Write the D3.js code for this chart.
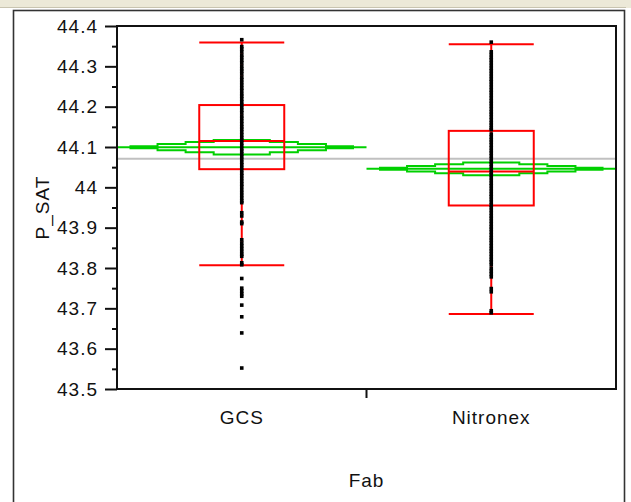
<!DOCTYPE html>
<html>
<head>
<meta charset="utf-8">
<script src="https://cdn.jsdelivr.net/npm/d3@7"></script>
<style>
  body { margin: 0; background: #fff; }
  svg { display: block; }
  text { font-family: "Liberation Sans", Arial, sans-serif; }
</style>
</head>
<body>
<svg id="chart" width="631" height="502"></svg>
<script>
// categories
const fabs = ["GCS", "Nitronex"];
// box plot summaries, one per fab
const q1 = [44.045, 43.955];
const medians = [44.115, 44.039];
const q3 = [44.204, 44.140];
const whiskerLow = [43.807, 43.686];
const whiskerHigh = [44.359, 44.355];
// means diamonds
const means = [44.0995, 44.046];
const ciHalf = [0.0205, 0.018];
const grandMean = 44.071;
// y tick values
const yTicks = [43.5, 43.6, 43.7, 43.8, 43.9, 44.0, 44.1, 44.2, 44.3, 44.4];
const yMinorTicks = [43.55, 43.65, 43.75, 43.85, 43.95, 44.05, 44.15, 44.25, 44.35];
// raw P_SAT values
const gcsPoints = [44.366,
  44.349, 44.343, 44.336, 44.328, 44.322, 44.315, 44.309, 44.301, 44.294, 44.288,
  44.281, 44.273, 44.267, 44.260, 44.253, 44.246, 44.240, 44.232, 44.226, 44.219,
  44.212, 44.205, 44.198, 44.191, 44.185, 44.177, 44.171, 44.164, 44.157, 44.150,
  44.144, 44.137, 44.130, 44.123, 44.117, 44.110, 44.103, 44.096, 44.090, 44.083,
  44.076, 44.069, 44.062, 44.056, 44.049, 44.042, 44.035, 44.029, 44.022, 44.015,
  44.008, 44.002,
  43.994, 43.987, 43.980, 43.973, 43.966, 43.962, 43.937, 43.929, 43.914, 43.910,
  43.870, 43.862, 43.855, 43.848, 43.841, 43.834, 43.829, 43.813, 43.808,
  43.774, 43.750, 43.743, 43.736, 43.730, 43.708, 43.679, 43.639, 43.552];
const nitronexPoints = [44.360,
  44.336, 44.329, 44.322, 44.316, 44.309, 44.302, 44.295, 44.289, 44.282, 44.275,
  44.268, 44.262, 44.255, 44.248, 44.241, 44.235, 44.228, 44.221, 44.214, 44.208,
  44.201, 44.194, 44.187, 44.181, 44.174, 44.167, 44.160, 44.154, 44.147, 44.143,
  44.132, 44.125, 44.118, 44.112, 44.105, 44.098, 44.091, 44.085, 44.078, 44.071,
  44.064, 44.058, 44.051, 44.044, 44.037, 44.031, 44.024, 44.017, 44.010, 44.004,
  43.997, 43.990, 43.983, 43.977, 43.970, 43.963, 43.956, 43.950, 43.943, 43.936,
  43.929, 43.923, 43.916, 43.909, 43.902, 43.896, 43.889, 43.882, 43.875, 43.869,
  43.862, 43.855, 43.848, 43.842, 43.835, 43.828, 43.821, 43.815, 43.808,
  43.799, 43.792, 43.785, 43.778, 43.749, 43.741, 43.694, 43.689];
const pointsByFab = [gcsPoints, nitronexPoints];

const svg = d3.select("#chart");
const plot = { left: 117, right: 616, top: 26, bottom: 389 };

// window chrome: beige bar on top and the outline box
svg.append("rect").attr("x", 0).attr("y", 0).attr("width", 631).attr("height", 8)
  .attr("fill", "#ece9d8");
svg.append("line").attr("x1", 0).attr("x2", 626).attr("y1", 7.5).attr("y2", 7.5)
  .attr("stroke", "#c8c4b0").attr("stroke-width", 1);
svg.append("rect").attr("x", 13.5).attr("y", 10.5).attr("width", 611).attr("height", 500)
  .attr("fill", "none").attr("stroke", "#333").attr("stroke-width", 1.6);

const x = d3.scaleBand().domain(fabs).range([plot.left, plot.right]);
const y = d3.scaleLinear().domain([43.5, 44.4]).range([plot.bottom, plot.top]);

const g = svg.append("g");

// grand mean
g.append("line")
  .attr("x1", plot.left).attr("x2", plot.right)
  .attr("y1", y(grandMean)).attr("y2", y(grandMean))
  .attr("stroke", "#c0c0c0").attr("stroke-width", 2);

// means diamonds (very flat, drawn as a staircase like the JMP screen)
const green = "#00d000";
const steps = 4;
fabs.forEach((f, i) => {
  const x0 = x(f), x1 = x(f) + x.bandwidth(), half = x.bandwidth() / 2;
  const ym = y(means[i]);
  g.append("line")
    .attr("x1", x0).attr("x2", x1).attr("y1", ym).attr("y2", ym)
    .attr("stroke", green).attr("stroke-width", 2);
  [-1, 1].forEach(sign => {
    const h = sign * (y(means[i] - ciHalf[i]) - ym);
    const pts = [];
    for (let j = 0; j < steps; j++) {
      const lvl = ym + h * (j + 0.5) / steps;
      pts.push([x0 + 0.1 * half + j * 0.9 * half / steps, lvl]);
      pts.push([x0 + 0.1 * half + (j + 1) * 0.9 * half / steps, lvl]);
    }
    for (let j = steps - 1; j >= 0; j--) {
      const lvl = ym + h * (j + 0.5) / steps;
      pts.push([x1 - 0.1 * half - (j + 1) * 0.9 * half / steps, lvl]);
      pts.push([x1 - 0.1 * half - j * 0.9 * half / steps, lvl]);
    }
    g.append("path")
      .attr("d", d3.line()(pts))
      .attr("fill", "none").attr("stroke", green).attr("stroke-width", 2);
  });
});

// box plots
const red = "#ff0000";
const boxW = 85;
fabs.forEach((f, i) => {
  const cx = x(f) + x.bandwidth() / 2;
  const b = g.append("g").attr("stroke", red).attr("stroke-width", 2).attr("fill", "none");
  b.append("line").attr("x1", cx).attr("x2", cx)
    .attr("y1", y(whiskerHigh[i])).attr("y2", y(whiskerLow[i]));
  [whiskerHigh[i], whiskerLow[i], medians[i]].forEach(v => {
    b.append("line").attr("x1", cx - boxW / 2).attr("x2", cx + boxW / 2)
      .attr("y1", y(v)).attr("y2", y(v));
  });
  b.append("rect").attr("x", cx - boxW / 2).attr("width", boxW)
    .attr("y", y(q3[i])).attr("height", y(q1[i]) - y(q3[i]));
});

// data points
const ps = 3.6;
fabs.forEach((f, i) => {
  const cx = x(f) + x.bandwidth() / 2;
  g.append("g").selectAll("rect")
    .data(pointsByFab[i])
    .join("rect")
    .attr("x", cx - ps / 2).attr("y", d => y(d) - ps / 2)
    .attr("width", ps).attr("height", ps)
    .attr("fill", "#000");
});

// frame
svg.append("rect")
  .attr("x", plot.left).attr("y", plot.top)
  .attr("width", plot.right - plot.left).attr("height", plot.bottom - plot.top)
  .attr("fill", "none").attr("stroke", "#111").attr("stroke-width", 2);

// y axis
const yAxis = svg.append("g").attr("transform", `translate(${plot.left},0)`)
  .call(d3.axisLeft(y).tickValues(yTicks).tickSize(12).tickPadding(7)
    .tickFormat(d3.format(".1~f")));
yAxis.select(".domain").remove();
yAxis.selectAll(".tick line").attr("stroke", "#111").attr("stroke-width", 2);
yAxis.selectAll(".tick text")
  .attr("font-size", 19).attr("letter-spacing", 1).attr("fill", "#111")
  .attr("font-family", "Liberation Sans, Arial, sans-serif");

const yMinor = svg.append("g").attr("transform", `translate(${plot.left},0)`)
  .call(d3.axisLeft(y).tickValues(yMinorTicks).tickSize(5).tickFormat(""));
yMinor.select(".domain").remove();
yMinor.selectAll(".tick line").attr("stroke", "#111").attr("stroke-width", 2);

// x axis: separator tick between categories plus labels
svg.append("line")
  .attr("x1", x("Nitronex")).attr("x2", x("Nitronex"))
  .attr("y1", plot.bottom).attr("y2", plot.bottom + 9)
  .attr("stroke", "#111").attr("stroke-width", 2);
svg.append("g").selectAll("text")
  .data(fabs)
  .join("text")
  .attr("x", d => x(d) + x.bandwidth() / 2)
  .attr("y", 424)
  .attr("text-anchor", "middle")
  .attr("font-size", 19).attr("letter-spacing", 1).attr("fill", "#111")
  .text(d => d);

// axis titles
svg.append("text")
  .attr("x", (plot.left + plot.right) / 2).attr("y", 487)
  .attr("text-anchor", "middle")
  .attr("font-size", 19).attr("letter-spacing", 1).attr("fill", "#111")
  .text("Fab");
svg.append("text")
  .attr("transform", `translate(49,${(plot.top + plot.bottom) / 2}) rotate(-90)`)
  .attr("text-anchor", "middle")
  .attr("font-size", 19).attr("letter-spacing", 1).attr("fill", "#111")
  .text("P_SAT");
</script>
</body>
</html>
